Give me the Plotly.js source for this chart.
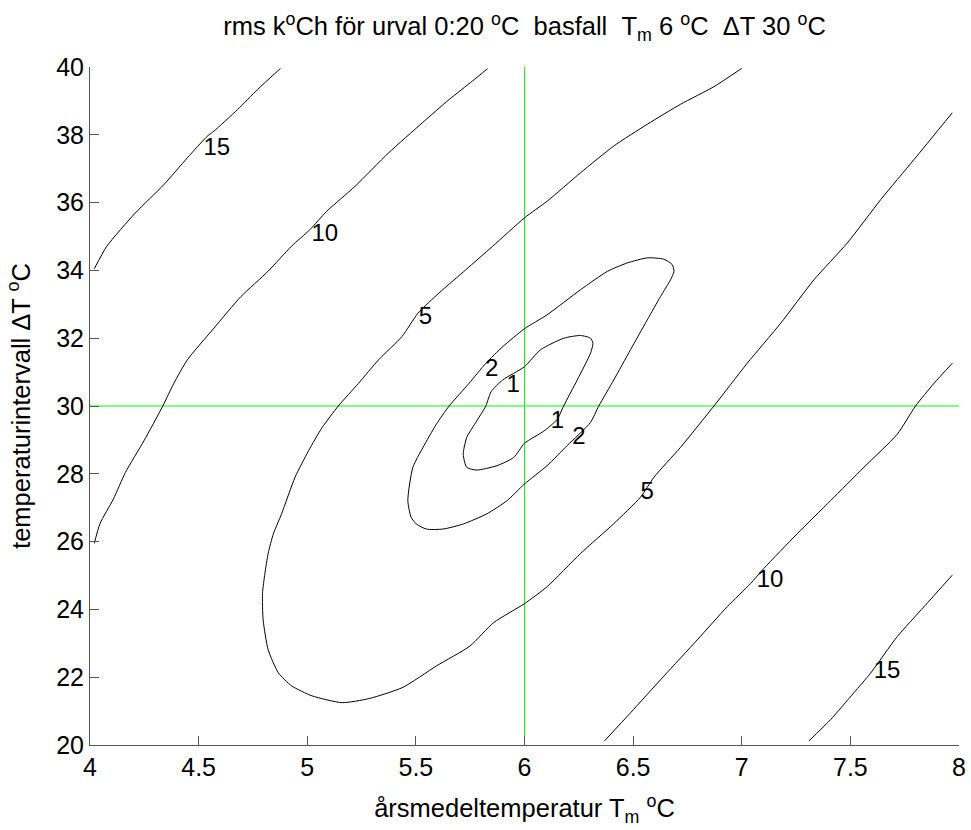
<!DOCTYPE html>
<html>
<head>
<meta charset="utf-8">
<script src="https://cdn.plot.ly/plotly-3.0.1.min.js"></script>
<style>html,body{margin:0;padding:0;background:#fff;}</style>
</head>
<body>
<div id="chart" style="width:971px;height:830px;"></div>
<script>
// Contour level lines (x = Tm, y = ΔT)
const c1_x = [6.0,5.9,5.846,5.822,5.78,5.734,5.718,5.734,5.78,5.873,5.95,6.0,6.089,6.15,6.18,6.243,6.304,6.315,6.304,6.258,6.181,6.074,6.0];
const c1_y = [31.16,30.77,30.42,30.0,29.56,29.07,28.58,28.19,28.11,28.24,28.48,28.9,29.26,29.6,30.0,30.77,31.56,31.85,32.0,32.08,32.0,31.66,31.16];

const c2_x = [6.0,5.9,5.822,5.745,5.653,5.594,5.532,5.486,5.463,5.478,5.502,5.548,5.625,5.718,5.827,5.92,6.0,6.104,6.196,6.303,6.342,6.411,6.488,6.565,6.626,6.672,6.688,6.68,6.642,6.565,6.473,6.381,6.258,6.104,6.0];
const c2_y = [32.28,31.75,31.26,30.67,30.0,29.46,28.77,28.19,27.21,26.72,26.52,26.37,26.37,26.52,26.82,27.21,27.7,28.24,28.83,29.51,30.0,30.77,31.66,32.54,33.23,33.72,33.97,34.17,34.33,34.37,34.22,33.97,33.43,32.69,32.28];

const c5_x = [7.0,6.872,6.718,6.565,6.411,6.258,6.104,6.0,5.853,5.73,5.606,5.51,5.436,5.328,5.236,5.143,5.068,5.006,4.944,4.882,4.844,4.82,4.805,4.794,4.797,4.82,4.867,4.929,5.022,5.161,5.285,5.44,5.594,5.749,5.858,6.0,6.104,6.258,6.411,6.534,6.596,6.718,6.872,7.025,7.179,7.332,7.486,7.64,7.793,7.969];
const c5_y = [39.96,39.42,38.9,38.31,37.67,36.88,36.04,35.55,34.71,34.02,33.33,32.74,32.05,31.36,30.67,30.0,29.36,28.68,27.9,26.82,26.23,25.65,25.06,24.47,23.69,22.81,22.13,21.74,21.45,21.25,21.37,21.7,22.33,22.92,23.61,24.17,24.67,25.65,26.53,27.31,27.9,28.78,30.0,31.26,32.44,33.72,34.81,36.09,37.27,38.65];

const c10a_x = [4.02,4.046,4.108,4.163,4.248,4.335,4.386,4.448,4.571,4.695,4.819,4.927,5.012,5.089,5.22,5.375,5.529,5.653,5.761,5.83];
const c10a_y = [25.95,26.53,27.26,28.04,28.97,30.0,30.67,31.36,32.30,33.23,33.97,34.71,35.2,35.74,36.48,37.47,38.35,39.04,39.59,39.95];
const c10b_x = [6.368,6.488,6.641,6.795,6.933,7.04,7.102,7.255,7.409,7.562,7.716,7.8,7.885,7.969];
const c10b_y = [20.12,20.95,22.03,23.1,24.08,24.76,25.21,26.23,27.21,28.19,29.17,30.0,30.67,31.26];

const c15a_x = [4.02,4.077,4.208,4.34,4.448,4.54,4.571,4.68,4.772,4.877];
const c15a_y = [34.05,34.71,35.69,36.53,37.32,37.96,38.11,38.75,39.34,39.96];
const c15b_x = [7.309,7.409,7.516,7.593,7.716,7.839,7.969];
const c15b_y = [20.12,20.75,21.54,22.12,23.2,24.08,25.01];

// Contour labels
const labelText = ['15','10','5','2','1','1','2','5','10','15'];
const labelX = [4.584,5.081,5.544,5.849,5.948,6.152,6.25,6.565,7.13,7.669];
const labelY = [37.57,35.05,32.59,31.06,30.59,29.52,29.05,27.43,24.84,22.15];

// Base case
const baseTm = 6;
const baseDT = 30;

const xTicks = [4,4.5,5,5.5,6,6.5,7,7.5,8];
const yTicks = [20,22,24,26,28,30,32,34,36,38,40];

const FONT = 'Liberation Sans, Arial, sans-serif';
const lineStyle = {color:'#000000', width:1, shape:'spline', smoothing:0.6};
const mk = (x,y) => ({x:x, y:y, type:'scatter', mode:'lines', line:lineStyle, hoverinfo:'skip', showlegend:false});

const traces = [
  mk(c1_x,c1_y), mk(c2_x,c2_y), mk(c5_x,c5_y),
  mk(c10a_x,c10a_y), mk(c10b_x,c10b_y),
  mk(c15a_x,c15a_y), mk(c15b_x,c15b_y),
  {x:labelX, y:labelY, text:labelText, type:'scatter', mode:'text',
   textposition:'middle center', textfont:{family:FONT, size:24, color:'#000'},
   hoverinfo:'skip', showlegend:false}
];

const NB = '\u00a0';
const layout = {
  width:971, height:830,
  margin:{l:90, r:12, t:67, b:85},
  paper_bgcolor:'#ffffff', plot_bgcolor:'#ffffff',
  font:{family:FONT, size:25, color:'#000'},
  title:{text:'rms k<sup>o</sup>Ch för urval 0:20 <sup>o</sup>C'+NB+NB+'basfall'+NB+NB+'T<sub>m</sub> 6 <sup>o</sup>C'+NB+NB+'ΔT 30 <sup>o</sup>C',
    font:{family:FONT, size:25.5, color:'#000'}, x:0.5, xref:'paper', xanchor:'center', y:0.968, yref:'container', yanchor:'middle'},
  xaxis:{range:[4,8], tickvals:xTicks, ticktext:xTicks.map(String), ticks:'inside', ticklen:9, tickcolor:'#555',
    showline:true, linecolor:'#555', linewidth:1, showgrid:false, zeroline:false, mirror:false,
    tickfont:{family:FONT, size:25, color:'#000'},
    title:{text:'årsmedeltemperatur T<sub>m</sub> <sup>o</sup>C', font:{family:FONT, size:25.5, color:'#000'}, standoff:19}},
  yaxis:{range:[20,40], tickvals:yTicks, ticktext:yTicks.map(String), ticks:'inside', ticklen:9, tickcolor:'#555',
    showline:true, linecolor:'#555', linewidth:1, showgrid:false, zeroline:false, mirror:false,
    tickfont:{family:FONT, size:25, color:'#000'},
    title:{text:'temperaturintervall ΔT <sup>o</sup>C', font:{family:FONT, size:25.5, color:'#000'}, standoff:18}},
  shapes:[
    {type:'line', xref:'x', yref:'paper', x0:baseTm, x1:baseTm, y0:0, y1:1, line:{color:'#00ff00', width:1}, layer:'below'},
    {type:'line', xref:'paper', yref:'y', x0:0, x1:1, y0:baseDT, y1:baseDT, line:{color:'#00ff00', width:1}, layer:'below'}
  ]
};

Plotly.newPlot('chart', traces, layout, {displayModeBar:false, staticPlot:true});
</script>
</body>
</html>
